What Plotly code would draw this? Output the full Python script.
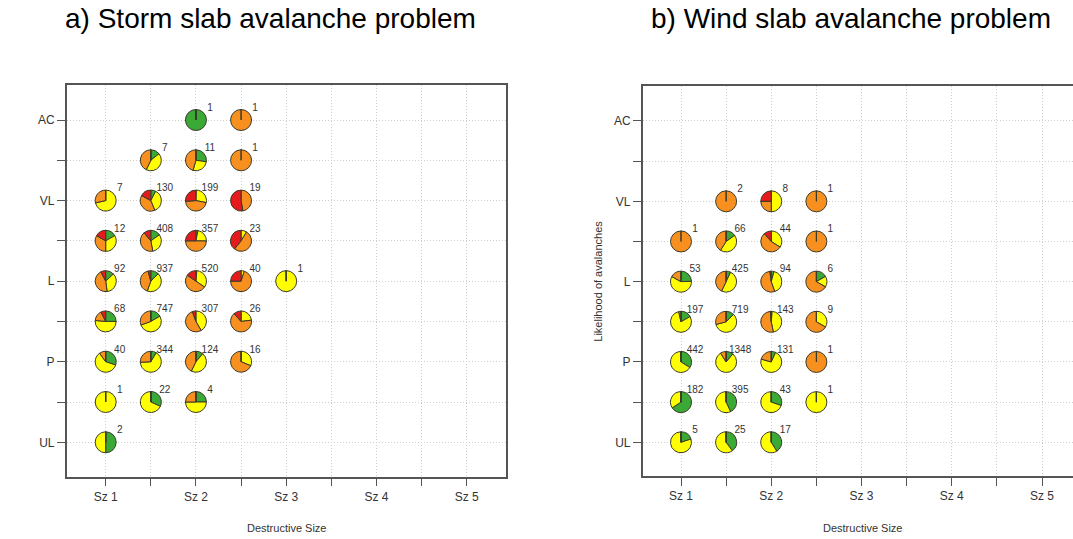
import plotly.graph_objects as go

# ---------------- data ----------------
y_labels = ["UL", "", "P", "", "L", "", "VL", "", "AC"]
x_labels = ["Sz 1", "", "Sz 2", "", "Sz 3", "", "Sz 4", "", "Sz 5"]
titles = ["a) Storm slab avalanche problem", "b) Wind slab avalanche problem"]
cat_colors = ["#3aa935", "#ffff00", "#f7901e", "#e41a1c"]  # green, yellow, orange, red

# panel a : storm slab
a_size = [2, 2.5, 1.5, 2, 2.5, 1, 1.5, 2, 2.5, 1, 1.5, 2, 2.5, 1, 1.5, 2, 2.5, 3,
          1, 1.5, 2, 2.5, 1, 1.5, 2, 2.5, 1, 1.5, 2, 1]
a_like = [9, 9, 8, 8, 8, 7, 7, 7, 7, 6, 6, 6, 6, 5, 5, 5, 5, 5,
          4, 4, 4, 4, 3, 3, 3, 3, 2, 2, 2, 1]
a_green = [1, 0, 1, 3, 0, 0, 10, 1, 0, 2, 62, 11, 0, 12, 117, 7, 0, 0,
           17, 125, 0, 0, 12, 30, 14, 0, 0, 7, 1, 1]
a_yellow = [0, 0, 3, 3, 0, 5, 47, 55, 0, 4, 130, 79, 2, 32, 403, 173, 2, 1,
            35, 394, 128, 6, 24, 225, 57, 5, 1, 15, 2, 1]
a_orange = [0, 1, 3, 5, 1, 2, 51, 91, 9, 4, 171, 178, 12, 41, 377, 260, 28, 0,
            11, 228, 162, 17, 4, 89, 53, 11, 0, 0, 1, 0]
a_red = [0, 0, 0, 0, 0, 0, 22, 52, 10, 2, 45, 89, 9, 7, 40, 80, 10, 0,
         5, 0, 17, 3, 0, 0, 0, 0, 0, 0, 0, 0]

# panel b : wind slab
b_size = [1.5, 2, 2.5, 1, 1.5, 2, 2.5, 1, 1.5, 2, 2.5, 1, 1.5, 2, 2.5,
          1, 1.5, 2, 2.5, 1, 1.5, 2, 2.5, 1, 1.5, 2]
b_like = [7, 7, 7, 6, 6, 6, 6, 5, 5, 5, 5, 4, 4, 4, 4,
          3, 3, 3, 3, 2, 2, 2, 2, 1, 1, 1]
b_green = [0, 0, 0, 0, 10, 0, 0, 13, 30, 4, 1, 33, 90, 2, 0,
           150, 150, 9, 0, 120, 170, 13, 0, 1, 10, 7]
b_yellow = [0, 4, 0, 0, 29, 15, 0, 31, 213, 38, 1, 157, 420, 65, 3,
            290, 1078, 95, 0, 62, 225, 30, 1, 4, 15, 10]
b_orange = [2, 2, 1, 1, 27, 24, 1, 9, 182, 50, 4, 7, 209, 74, 6,
            2, 120, 27, 1, 0, 0, 0, 0, 0, 0, 0]
b_red = [0, 2, 0, 0, 0, 5, 0, 0, 0, 2, 0, 0, 0, 2, 0,
         0, 0, 0, 0, 0, 0, 0, 0, 0, 0, 0]

# ---------------- layout geometry ----------------
W, H = 1073, 539
FONT = "Liberation Sans, Arial, sans-serif"
panels = [
    dict(xdom=[66.7 / W, 506.0 / W], xr=[0.568, 5.4355],
         ydom=[1 - 476.7 / H, 1 - 85.0 / H], yr=[0.146, 9.869],
         size=a_size, like=a_like, g=a_green, yl=a_yellow, o=a_orange, r=a_red,
         mirror_y=True, ytitle=False),
    dict(xdom=[642.7 / W, 1.0], xr=[0.5756, 5.3435],
         ydom=[1 - 476.0 / H, 1 - 86.0 / H], yr=[0.161, 9.871],
         size=b_size, like=b_like, g=b_green, yl=b_yellow, o=b_orange, r=b_red,
         mirror_y=False, ytitle=True),
]

fig = go.Figure()
R_PX = 10.5  # pie radius in pixels


def to_frac(v, rng, dom):
    return dom[0] + (v - rng[0]) / (rng[1] - rng[0]) * (dom[1] - dom[0])


for i, p in enumerate(panels):
    xa = "x" if i == 0 else "x2"
    ya = "y" if i == 0 else "y2"
    counts = []
    for k in range(len(p["size"])):
        vals = [p["g"][k], p["yl"][k], p["o"][k], p["r"][k]]
        counts.append(sum(vals))
        cx = to_frac(p["size"][k], p["xr"], p["xdom"])
        cy = to_frac(p["like"][k], p["yr"], p["ydom"])
        fig.add_trace(go.Pie(
            values=vals, labels=["Low", "Moderate", "Considerable", "High"],
            marker=dict(colors=cat_colors, line=dict(color="#3a3a2a", width=1)),
            sort=False, direction="clockwise", rotation=0,
            textinfo="none", hoverinfo="skip", showlegend=False,
            domain=dict(x=[cx - R_PX / W, cx + R_PX / W],
                        y=[cy - R_PX / H, cy + R_PX / H]),
        ))
    # count labels to the upper right of each pie
    fig.add_trace(go.Scatter(
        x=[s + 0.155 for s in p["size"]], y=[l + 0.29 for l in p["like"]],
        text=[str(c) for c in counts], mode="text",
        textfont=dict(family=FONT, size=10, color="#333333"),
        xaxis=xa, yaxis=ya, hoverinfo="skip", showlegend=False, cliponaxis=False,
    ))

axis_common = dict(showline=True, linecolor="#555555", linewidth=1.5,
                   ticks="outside", ticklen=8, tickcolor="#555555", tickwidth=1,
                   showgrid=True, gridcolor="#cfcfcf", griddash="1px,2px", gridwidth=1,
                   zeroline=False, tickfont=dict(family=FONT, size=12, color="#333333"))

for i, p in enumerate(panels):
    sfx = "" if i == 0 else "2"
    fig.update_layout(**{
        "xaxis" + sfx: dict(axis_common, domain=p["xdom"], range=p["xr"],
                            tickvals=[1 + 0.5 * j for j in range(9)], ticktext=x_labels,
                            mirror=True, anchor="y" + sfx),
        "yaxis" + sfx: dict(axis_common, domain=p["ydom"], range=p["yr"],
                            tickvals=list(range(1, 10)), ticktext=y_labels,
                            mirror=p["mirror_y"], anchor="x" + sfx),
    })

annotations = []
centers = [(66.7 + 506.0) / 2, (642.7 + 1082.0) / 2]
title_centers = [270, 851]
for i in range(2):
    annotations.append(dict(text=titles[i], x=title_centers[i] / W, y=1 - 19 / H,
                            xref="paper", yref="paper", showarrow=False,
                            xanchor="center", yanchor="middle",
                            font=dict(family=FONT, size=28, color="#000000")))
    annotations.append(dict(text="Destructive Size", x=centers[i] / W, y=1 - 528 / H,
                            xref="paper", yref="paper", showarrow=False,
                            xanchor="center", yanchor="middle",
                            font=dict(family=FONT, size=11, color="#333333")))
    if panels[i]["ytitle"]:
        left = [66.7, 642.7][i]
        annotations.append(dict(text="Likelihood of avalanches", x=(left - 45) / W,
                                y=(panels[i]["ydom"][0] + panels[i]["ydom"][1]) / 2,
                                xref="paper", yref="paper", showarrow=False, textangle=-90,
                                xanchor="center", yanchor="middle",
                                font=dict(family=FONT, size=11, color="#333333")))

fig.update_layout(width=W, height=H, margin=dict(l=0, r=0, t=0, b=0),
                  paper_bgcolor="white", plot_bgcolor="white",
                  annotations=annotations, showlegend=False)

fig.write_html("out.html")
